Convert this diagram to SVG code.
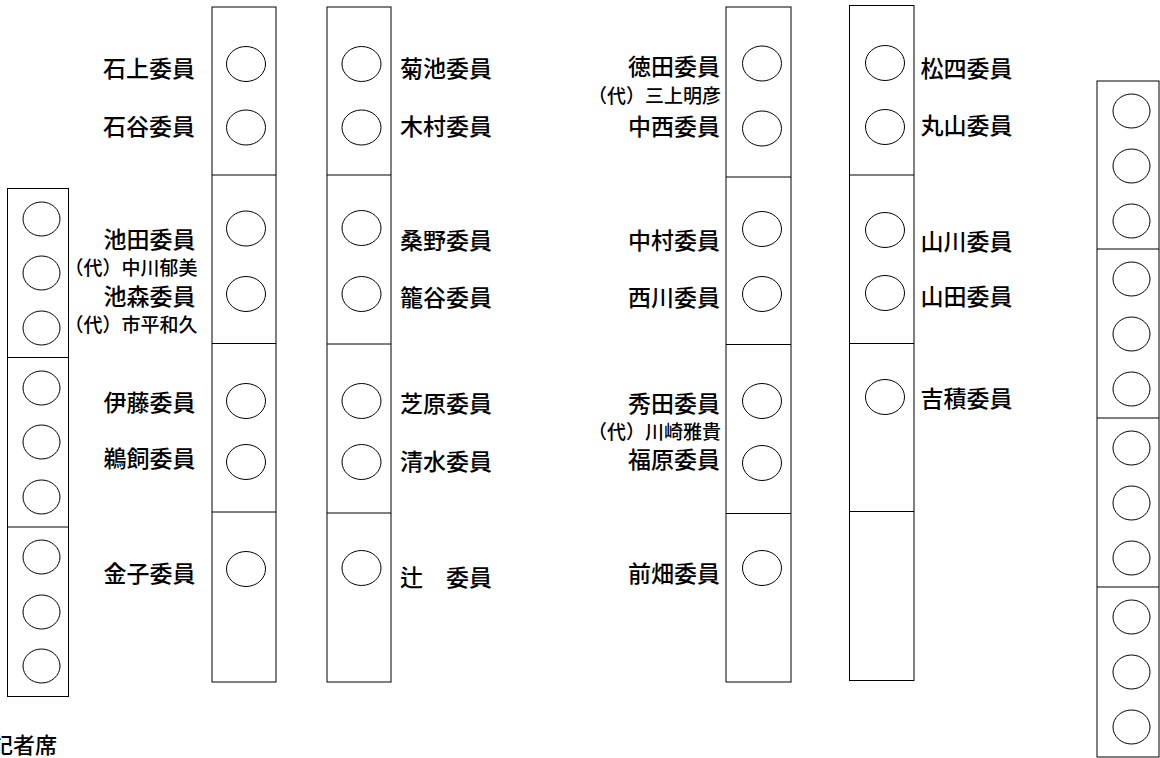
<svg xmlns="http://www.w3.org/2000/svg" width="1160" height="758" viewBox="0 0 1160 758">
<style>
.desk{fill:#fff;stroke:#000;stroke-width:1}
.div{stroke:#000;stroke-width:1}
.seat{fill:#fff;stroke:#000;stroke-width:1}
.n{font-family:"Noto Sans CJK JP","Noto Sans CJK SC",sans-serif;font-size:23px;font-weight:500;fill:#000}
.s{font-family:"Noto Sans CJK JP","Noto Sans CJK SC",sans-serif;font-size:19px;font-weight:500;fill:#000}
.r{text-anchor:end}
</style>
<rect width="1160" height="758" fill="#fff"/>

<g id="col-left">
<rect class="desk" x="7.5" y="188.5" width="61" height="508"/>
<line class="div" x1="7.5" y1="357.5" x2="68.5" y2="357.5"/>
<line class="div" x1="7.5" y1="527" x2="68.5" y2="527"/>
<ellipse class="seat" cx="41.5" cy="219" rx="18.5" ry="17"/>
<ellipse class="seat" cx="41.5" cy="273" rx="18.5" ry="17"/>
<ellipse class="seat" cx="41.5" cy="328" rx="18.5" ry="17"/>
<ellipse class="seat" cx="41.5" cy="388" rx="18.5" ry="17"/>
<ellipse class="seat" cx="41.5" cy="442" rx="18.5" ry="17"/>
<ellipse class="seat" cx="41.5" cy="497" rx="18.5" ry="17"/>
<ellipse class="seat" cx="41.5" cy="557" rx="18.5" ry="17"/>
<ellipse class="seat" cx="41.5" cy="612" rx="18.5" ry="17"/>
<ellipse class="seat" cx="41.5" cy="666" rx="18.5" ry="17"/>
</g>

<g id="col-a">
<rect class="desk" x="212" y="7" width="64" height="675"/>
<line class="div" x1="212" y1="175" x2="276" y2="175"/>
<line class="div" x1="212" y1="343.5" x2="276" y2="343.5"/>
<line class="div" x1="212" y1="512" x2="276" y2="512"/>
<ellipse class="seat" cx="246" cy="64" rx="19.5" ry="17.5"/>
<ellipse class="seat" cx="246" cy="127.5" rx="19.5" ry="17.5"/>
<ellipse class="seat" cx="246" cy="228.5" rx="19.5" ry="17.5"/>
<ellipse class="seat" cx="246" cy="294" rx="19.5" ry="17.5"/>
<ellipse class="seat" cx="246" cy="401" rx="19.5" ry="17.5"/>
<ellipse class="seat" cx="246" cy="462" rx="19.5" ry="17.5"/>
<ellipse class="seat" cx="246" cy="569" rx="19.5" ry="17.5"/>
</g>

<g id="col-b">
<rect class="desk" x="327" y="7" width="64" height="675"/>
<line class="div" x1="327" y1="175" x2="391" y2="175"/>
<line class="div" x1="327" y1="344" x2="391" y2="344"/>
<line class="div" x1="327" y1="513" x2="391" y2="513"/>
<ellipse class="seat" cx="361.5" cy="64" rx="19.5" ry="17.5"/>
<ellipse class="seat" cx="361.5" cy="127.5" rx="19.5" ry="17.5"/>
<ellipse class="seat" cx="361.5" cy="228" rx="19.5" ry="17.5"/>
<ellipse class="seat" cx="361.5" cy="294" rx="19.5" ry="17.5"/>
<ellipse class="seat" cx="361.5" cy="401" rx="19.5" ry="17.5"/>
<ellipse class="seat" cx="361.5" cy="462" rx="19.5" ry="17.5"/>
<ellipse class="seat" cx="361.5" cy="568" rx="19.5" ry="17.5"/>
</g>

<g id="col-c">
<rect class="desk" x="726" y="7" width="65" height="675"/>
<line class="div" x1="726" y1="177" x2="791" y2="177"/>
<line class="div" x1="726" y1="344.5" x2="791" y2="344.5"/>
<line class="div" x1="726" y1="513.5" x2="791" y2="513.5"/>
<ellipse class="seat" cx="762" cy="63.5" rx="19.5" ry="17.5"/>
<ellipse class="seat" cx="762" cy="128.5" rx="19.5" ry="17.5"/>
<ellipse class="seat" cx="762" cy="229" rx="19.5" ry="17.5"/>
<ellipse class="seat" cx="762" cy="294" rx="19.5" ry="17.5"/>
<ellipse class="seat" cx="762" cy="401" rx="19.5" ry="17.5"/>
<ellipse class="seat" cx="762" cy="463" rx="19.5" ry="17.5"/>
<ellipse class="seat" cx="762" cy="568" rx="19.5" ry="17.5"/>
</g>

<g id="col-d">
<rect class="desk" x="849.5" y="5.5" width="64.5" height="675"/>
<line class="div" x1="849.5" y1="175" x2="914" y2="175"/>
<line class="div" x1="849.5" y1="343.5" x2="914" y2="343.5"/>
<line class="div" x1="849.5" y1="511.5" x2="914" y2="511.5"/>
<ellipse class="seat" cx="885" cy="63" rx="19.5" ry="17.5"/>
<ellipse class="seat" cx="885" cy="127" rx="19.5" ry="17.5"/>
<ellipse class="seat" cx="885" cy="230" rx="19.5" ry="17.5"/>
<ellipse class="seat" cx="885" cy="293" rx="19.5" ry="17.5"/>
<ellipse class="seat" cx="885" cy="397" rx="19.5" ry="17.5"/>
</g>

<g id="col-right">
<rect class="desk" x="1097" y="81" width="62" height="676"/>
<line class="div" x1="1097" y1="249" x2="1159" y2="249"/>
<line class="div" x1="1097" y1="418" x2="1159" y2="418"/>
<line class="div" x1="1097" y1="587" x2="1159" y2="587"/>
<ellipse class="seat" cx="1131.5" cy="111" rx="18.5" ry="17"/>
<ellipse class="seat" cx="1131.5" cy="166" rx="18.5" ry="17"/>
<ellipse class="seat" cx="1131.5" cy="221" rx="18.5" ry="17"/>
<ellipse class="seat" cx="1131.5" cy="279" rx="18.5" ry="17"/>
<ellipse class="seat" cx="1131.5" cy="334" rx="18.5" ry="17"/>
<ellipse class="seat" cx="1131.5" cy="389" rx="18.5" ry="17"/>
<ellipse class="seat" cx="1131.5" cy="448" rx="18.5" ry="17"/>
<ellipse class="seat" cx="1131.5" cy="503" rx="18.5" ry="17"/>
<ellipse class="seat" cx="1131.5" cy="558" rx="18.5" ry="17"/>
<ellipse class="seat" cx="1131.5" cy="617" rx="18.5" ry="17"/>
<ellipse class="seat" cx="1131.5" cy="672" rx="18.5" ry="17"/>
<ellipse class="seat" cx="1131.5" cy="727" rx="18.5" ry="17"/>
</g>

<g id="labels-a">
<text class="n r" x="195" y="77">石上委員</text>
<text class="n r" x="195" y="135">石谷委員</text>
<text class="n r" x="195.5" y="248">池田委員</text>
<text class="s r" x="197.5" y="275">（代）中川郁美</text>
<text class="n r" x="195.5" y="304.5">池森委員</text>
<text class="s r" x="197.5" y="332">（代）市平和久</text>
<text class="n r" x="195.5" y="410.5">伊藤委員</text>
<text class="n r" x="195.5" y="466.5">鵜飼委員</text>
<text class="n r" x="195.5" y="582">金子委員</text>
</g>

<g id="labels-b">
<text class="n" x="400" y="77">菊池委員</text>
<text class="n" x="400" y="135">木村委員</text>
<text class="n" x="400" y="249">桑野委員</text>
<text class="n" x="400" y="306">籠谷委員</text>
<text class="n" x="400" y="411.5">芝原委員</text>
<text class="n" x="400" y="470">清水委員</text>
<text class="n" x="400" y="586">辻　委員</text>
</g>

<g id="labels-c">
<text class="n r" x="720" y="75">徳田委員</text>
<text class="s r" x="721" y="103">（代）三上明彦</text>
<text class="n r" x="720" y="135">中西委員</text>
<text class="n r" x="720" y="249">中村委員</text>
<text class="n r" x="720" y="306">西川委員</text>
<text class="n r" x="720" y="411.5">秀田委員</text>
<text class="s r" x="721" y="438.5">（代）川崎雅貴</text>
<text class="n r" x="720" y="468">福原委員</text>
<text class="n r" x="720" y="582">前畑委員</text>
</g>

<g id="labels-d">
<text class="n" x="920.5" y="77">松四委員</text>
<text class="n" x="920.5" y="134">丸山委員</text>
<text class="n" x="920.5" y="250">山川委員</text>
<text class="n" x="920.5" y="305">山田委員</text>
<text class="n" x="920.5" y="406.5">吉積委員</text>
</g>

<g id="press">
<text class="n" x="-9" y="753" style="font-size:22px">記者席</text>
</g>
</svg>
